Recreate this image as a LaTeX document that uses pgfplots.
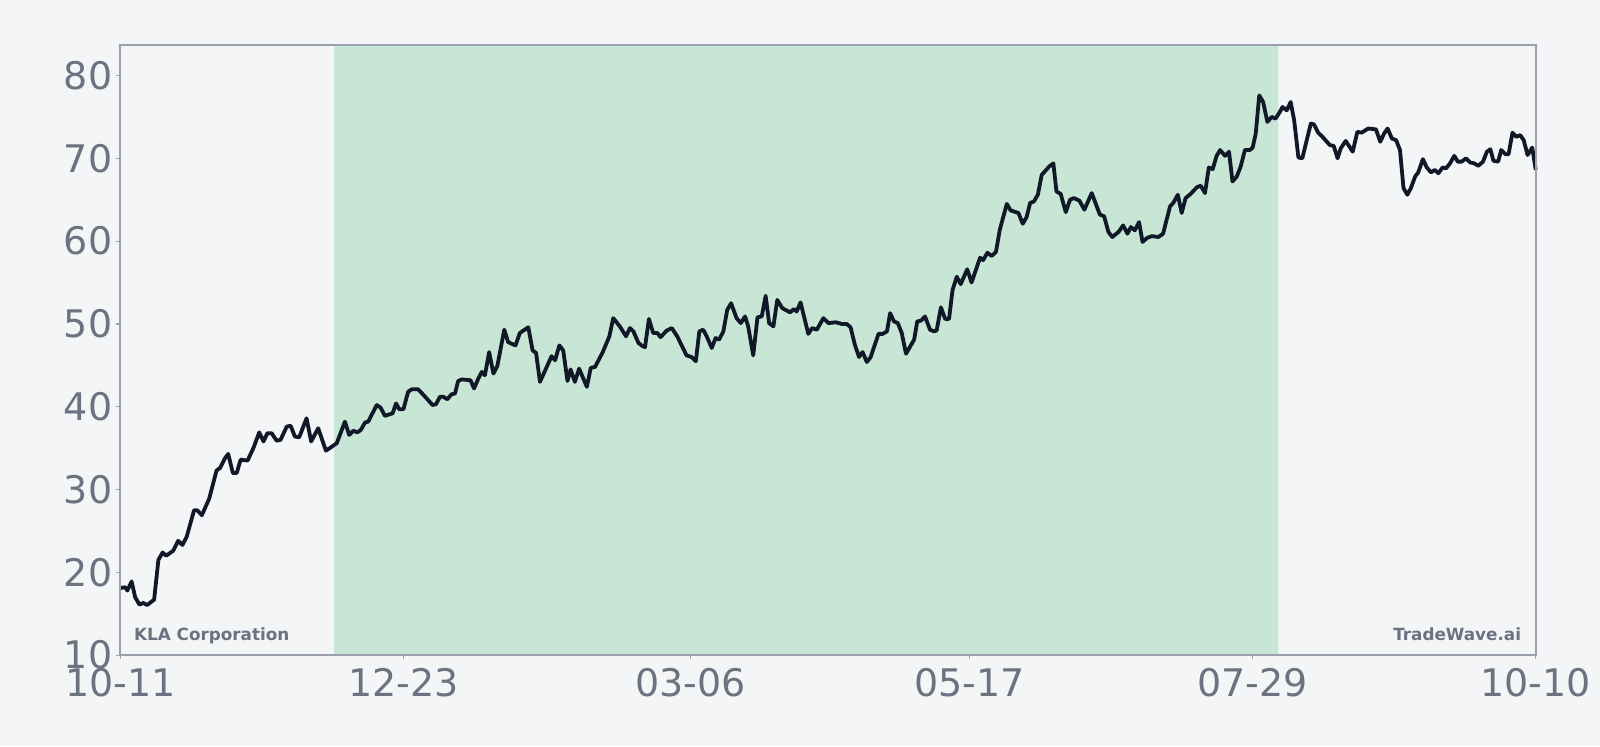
\documentclass[border=0pt]{standalone}
\usepackage{fontspec}
\setmainfont{DejaVu Sans}
\usepackage{pgfplots}
\pgfplotsset{compat=1.18}

\definecolor{bgc}{RGB}{244,245,247}
\definecolor{framec}{RGB}{156,160,172}
\definecolor{labelc}{RGB}{107,114,128}
\definecolor{linec}{RGB}{17,24,39}
\definecolor{shadec}{RGB}{200,230,213}

\begin{document}
\begin{tikzpicture}
    % page is 1600x746 px at 0.5pt per px
    \fill[bgc] (0,0) rectangle (800pt,373pt);

    \begin{axis}[
        at={(60.2pt,45.45pt)}, anchor=south west,
        scale only axis,
        width=707.65pt, height=305.1pt,
        xmin=0, xmax=365,
        ymin=10, ymax=83.7,
        axis background/.style={fill=bgc},
        axis line style={framec, line width=1pt},
        tick style={framec, line width=0.6pt},
        major tick length=2pt,
        tick align=outside,
        xtick={0,73,147,219,292,365},
        xticklabels={10-11,12-23,03-06,05-17,07-29,10-10},
        ytick={10,20,30,40,50,60,70,80},
        xtick pos=bottom, ytick pos=left,
        /pgf/number format/assume math mode=true,
        ticklabel style={font=\fontsize{19}{23}\selectfont, text=labelc},
        xticklabel style={inner sep=0pt, anchor=north, yshift=-4.6pt},
        yticklabel style={inner sep=0pt, anchor=east, xshift=-1.9pt},
        clip=false,
        axis on top,
    ]
        % shaded period
        \addplot[fill=shadec, draw=none] coordinates {(55.1,10) (55.1,83.7) (298.6,83.7) (298.6,10)} \closedcycle;

        \addplot[linec, line width=1.9pt, line join=round] coordinates {
(0,18.1) (1.2,18.2) (1.8,17.8) (2.9,18.9) (3.8,17.0) (4.9,16.1) (5.9,16.3) (6.9,16.05) (8.7,16.7) (9.8,21.5)
(10.9,22.4) (11.8,22.0) (13.6,22.6) (14.9,23.8) (16.0,23.3) (17.1,24.3) (19.0,27.5) (19.8,27.5) (21.0,26.9) (22.9,28.9)
(24.8,32.3) (25.7,32.6) (27.0,33.8) (27.8,34.3) (29.0,32.0) (30.0,32.0) (31.0,33.6) (32.8,33.5) (34.3,35.0) (35.8,36.9)
(36.9,35.8) (37.9,36.8) (39.0,36.8) (40.3,35.9) (41.3,36.0) (42.9,37.6) (43.9,37.7) (45.0,36.4) (46.1,36.3) (48.0,38.6)
(49.2,35.8) (51.0,37.4) (53.0,34.7) (54.0,35.0) (55.8,35.6) (57.9,38.2) (59.0,36.6) (60.1,37.1) (61.1,36.9) (62.0,37.2)
(63.1,38.1) (63.9,38.2) (66.1,40.2) (67.1,39.9) (68.2,38.9) (70.2,39.2) (71.1,40.4) (71.9,39.7) (73.0,39.7) (74.2,41.8)
(75.1,42.1) (76.8,42.1) (78.6,41.2) (80.5,40.2) (81.4,40.3) (82.4,41.2) (83.3,41.2) (84.3,40.9) (85.4,41.5) (86.3,41.6)
(87.1,43.1) (88.0,43.3) (90.3,43.2) (91.2,42.2) (92.3,43.4) (93.2,44.2) (94.0,43.8) (95.1,46.6) (96.2,44.0) (97.2,44.9)
(99.0,49.3) (100.0,47.8) (101.9,47.4) (103.0,48.9) (105.2,49.6) (106.3,46.8) (107.2,46.5) (108.2,43.0) (111.2,46.1) (112.1,45.6)
(113.2,47.4) (114.2,46.8) (115.3,43.1) (116.1,44.5) (117.2,43.0) (118.3,44.6) (120.3,42.4) (121.3,44.7) (122.4,44.8) (124.4,46.6)
(126.1,48.5) (127.1,50.7) (128.8,49.7) (130.4,48.5) (131.4,49.5) (132.3,49.1) (133.6,47.7) (134.7,47.3) (135.3,47.2) (136.3,50.6)
(137.4,48.9) (138.5,48.9) (139.3,48.4) (140.9,49.2) (142.2,49.5) (143.6,48.5) (146.0,46.2) (147.3,46.0) (148.4,45.5) (149.3,49.1)
(150.3,49.3) (151.2,48.5) (152.5,47.1) (153.5,48.3) (154.4,48.1) (155.5,49.1) (156.5,51.7) (157.5,52.5) (158.9,50.7) (160.0,50.1)
(161.1,50.9) (161.9,49.7) (163.2,46.2) (164.3,50.8) (165.4,50.9) (166.4,53.4) (167.3,50.1) (168.4,49.7) (169.4,52.9) (170.7,51.9)
(172.7,51.4) (173.7,51.8) (174.4,51.5) (175.4,52.6) (177.4,48.8) (178.4,49.5) (179.6,49.3) (181.3,50.7) (182.6,50.1) (184.5,50.2)
(186.0,50.0) (187.3,50.0) (188.3,49.6) (189.4,47.5) (190.5,46.0) (191.4,46.6) (192.5,45.4) (193.5,46.0) (195.5,48.8) (196.6,48.8)
(197.7,49.1) (198.5,51.3) (199.5,50.3) (200.5,50.1) (201.5,48.9) (202.6,46.4) (204.7,48.1) (205.5,50.3) (206.5,50.4) (207.5,50.9)
(208.8,49.3) (209.8,49.1) (210.5,49.2) (211.6,52.0) (212.7,50.6) (213.7,50.6) (214.6,54.1) (215.7,55.7) (216.7,54.8) (218.4,56.6)
(219.5,55.0) (221.7,58.0) (222.5,57.7) (223.6,58.6) (224.7,58.2) (225.8,58.7) (226.8,61.4) (228.6,64.5) (229.6,63.7) (231.6,63.4)
(232.7,62.1) (233.7,62.9) (234.6,64.6) (235.6,64.8) (236.6,65.6) (237.6,68.0) (239.5,69.0) (240.6,69.4) (241.4,66.0) (242.5,65.7)
(243.8,63.5) (244.9,65.0) (245.9,65.2) (247.3,64.9) (248.6,63.8) (250.5,65.8) (252.6,63.2) (253.7,63.0) (254.8,61.1) (255.8,60.5)
(257.4,61.1) (258.6,61.9) (259.7,60.9) (260.6,61.7) (261.6,61.3) (262.7,62.3) (263.6,59.9) (264.8,60.4) (266.0,60.6) (267.7,60.5)
(268.9,60.9) (270.7,64.2) (271.5,64.6) (272.7,65.6) (273.7,63.4) (274.7,65.2) (276.0,65.7) (277.6,66.5) (278.6,66.7) (279.7,65.8)
(280.7,68.9) (281.7,68.7) (282.7,70.3) (283.6,71.0) (284.9,70.3) (285.9,70.8) (286.8,67.2) (287.9,67.8) (288.9,69.0) (290.0,71.0)
(291.3,71.0) (292.0,71.3) (292.8,73.0) (293.7,77.6) (294.7,76.8) (295.8,74.4) (296.9,75.0) (297.9,74.8) (299.0,75.6) (299.7,76.2)
(300.8,75.8) (301.8,76.8) (302.7,74.6) (303.8,70.1) (304.8,70.0) (307.0,74.2) (307.8,74.1) (308.9,73.1) (310.0,72.6) (311.9,71.6)
(312.9,71.5) (313.9,70.0) (314.7,71.2) (316.0,72.1) (317.8,70.8) (319.0,73.2) (320.1,73.1) (321.8,73.6) (323.8,73.5) (324.9,72.0)
(325.9,73.0) (326.8,73.6) (327.9,72.4) (329.0,72.2) (330.0,71.0) (330.9,66.4) (331.9,65.6) (332.8,66.4) (333.9,67.8) (334.7,68.3)
(335.9,69.9) (336.9,68.9) (338.0,68.3) (339.0,68.6) (339.9,68.2) (341.0,68.9) (341.9,68.8) (342.9,69.4) (344.0,70.3) (344.9,69.6)
(345.9,69.6) (347.0,70.0) (348.1,69.5) (349.1,69.4) (350.2,69.1) (351.4,69.6) (352.4,70.8) (353.3,71.1) (354.1,69.7) (355.3,69.6)
(356.1,71.0) (357.2,70.5) (358.0,70.5) (359.0,73.1) (360.0,72.6) (361.0,72.8) (361.9,72.2) (362.9,70.4) (364.1,71.3) (365.0,68.6)
        };

        \node[anchor=base west, inner sep=0pt, text=labelc, font=\fontsize{8.4}{10}\selectfont\bfseries]
            at (rel axis cs:0.0094,0.0246) {KLA Corporation};
        \node[anchor=base east, inner sep=0pt, text=labelc, font=\fontsize{8.4}{10}\selectfont\bfseries]
            at (rel axis cs:0.9899,0.0246) {TradeWave.ai};
    \end{axis}

    \pgfresetboundingbox
    \useasboundingbox (0,0) rectangle (800pt,373pt);
\end{tikzpicture}
\end{document}
